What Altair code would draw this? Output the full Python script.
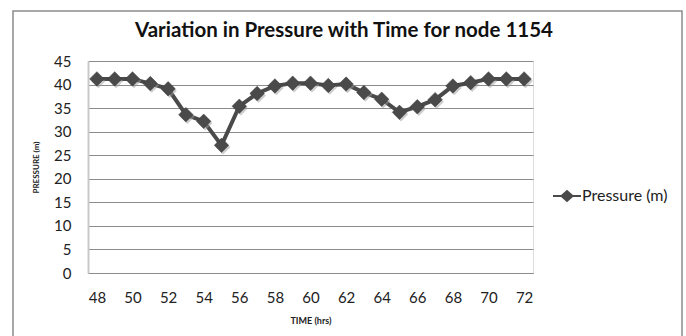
import altair as alt
import pandas as pd

hours = list(range(48, 73))
pressure = [41.2, 41.2, 41.2, 40.2, 39.1, 33.6, 32.2, 27.1, 35.4, 38.1, 39.7, 40.3,
            40.3, 39.8, 40.1, 38.3, 36.9, 34.1, 35.3, 36.8, 39.7, 40.4, 41.2, 41.2, 41.2]
x_ticks = list(range(48, 73, 2))
y_ticks = list(range(0, 46, 5))
series_name = "Pressure (m)"
title_text = "Variation in Pressure with Time for node 1154"

df = pd.DataFrame({"hour": hours, "pressure": pressure, "series": [series_name] * len(hours)})
one = pd.DataFrame({"t": [title_text]})

FONT = "Lato"
W, H = 445, 212

x_enc = alt.X("hour:Q", scale=alt.Scale(domain=[47.5, 72.5], nice=False, zero=False),
              axis=alt.Axis(values=x_ticks, title="TIME (hrs)", grid=False, ticks=False,
                            labelOverlap=False, labelFlush=False,
                            labelPadding=17, labelFontSize=15, labelColor="#222", labelFont=FONT,
                            titleFont=FONT, titleFontSize=9, titleFontWeight="bold", titleColor="#222",
                            titlePadding=11, domainColor="#8c8c8c", domainWidth=1.2))
y_enc = alt.Y("pressure:Q", scale=alt.Scale(domain=[0, 45], nice=False),
              axis=alt.Axis(values=y_ticks, title="PRESSURE (m)", grid=True, gridColor="#8c8c8c",
                            gridWidth=1.1, ticks=False, labelOverlap=False, labelFlush=False,
                            labelPadding=17, labelFontSize=15,
                            labelColor="#222", labelFont=FONT, titleFont=FONT, titleFontSize=8,
                            titleFontWeight="bold", titleColor="#222", titleX=-48,
                            domainColor="#c8c8c8", domainWidth=2))

base = alt.Chart(df).encode(x=x_enc, y=y_enc)

frame = alt.Chart(one).mark_rect(fill=None, stroke="#8c8c8c", strokeWidth=1.5).encode(
    x=alt.value(-75), x2=alt.value(594), y=alt.value(-50), y2=alt.value(290))

title = alt.Chart(one).mark_text(font=FONT, fontSize=20.5, fontWeight="bold",
                                 color="#111", align="center", baseline="middle").encode(
    text="t:N", x=alt.value(256), y=alt.value(-30))

line = base.mark_line(color="#585858", strokeWidth=4).encode(
    color=alt.Color("series:N", scale=alt.Scale(range=["#4a4a4a"]),
                    legend=alt.Legend(title=None, orient="none", legendX=465, legendY=121,
                                      symbolType="M-1,-0.07L-0.42,-0.07L0,-0.45L0.42,-0.07L1,-0.07L1,0.07L0.42,0.07L0,0.45L-0.42,0.07L-1,0.07Z",
                                      symbolSize=784, symbolStrokeWidth=0, symbolFillColor="#4a4a4a",
                                      labelFont=FONT, labelFontSize=16, labelColor="#222",
                                      labelOffset=1)))

shadow = base.mark_point(shape="diamond", filled=True, color="#999999", opacity=0.5, size=210).encode(
    xOffset=alt.value(1.5), yOffset=alt.value(2))

points = base.mark_point(shape="diamond", filled=True, color="#4a4a4a", opacity=1, size=210,
                         stroke="#3a3a3a", strokeWidth=0.5)

chart = alt.layer(frame, title, line, shadow, points).properties(
    width=W, height=H,
    autosize=alt.AutoSizeParams(type="none"),
    padding={"left": 88, "top": 61, "right": 153, "bottom": 63},
).configure_view(stroke=None).configure(background="white")

chart.save("out.html", embed_options={"renderer": "svg", "actions": False})
